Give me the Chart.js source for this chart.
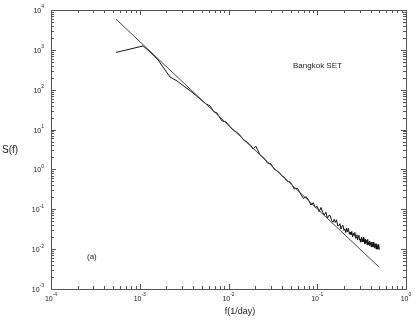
<!DOCTYPE html>
<html>
<head>
<meta charset="utf-8">
<script src="https://cdn.jsdelivr.net/npm/chart.js@4"></script>
<style>
body{margin:0;background:#fff;}
#wrap{width:415px;height:321px;}
</style>
</head>
<body>
<div id="wrap"><canvas id="spectrum-chart" width="415" height="321"></canvas></div>
<script>
// power spectrum S(f) of the Bangkok SET index, log-log
var freq = [
    0.00054, 0.00109, 0.00131, 0.00161, 0.00193, 0.00219, 0.00263, 0.00324, 0.00398, 0.00478,
    0.00558, 0.00619, 0.00687, 0.00742, 0.00802, 0.00845, 0.00937, 0.0104, 0.0113, 0.0122,
    0.0132, 0.0142, 0.0151, 0.0161, 0.0170, 0.0179, 0.01888, 0.02042, 0.02123, 0.02265,
    0.025, 0.0275, 0.03, 0.0325, 0.035, 0.0375, 0.04, 0.0425, 0.045, 0.0475,
    0.05, 0.055, 0.06, 0.065, 0.07, 0.075, 0.08, 0.085, 0.09, 0.095,
    0.1, 0.105, 0.11, 0.115, 0.12, 0.125, 0.13, 0.135, 0.14, 0.145,
    0.15, 0.155, 0.16, 0.165, 0.17, 0.175, 0.18, 0.185, 0.19, 0.195,
    0.2, 0.205, 0.21, 0.215, 0.22, 0.225, 0.23, 0.235, 0.24, 0.245,
    0.25, 0.255, 0.26, 0.265, 0.27, 0.275, 0.28, 0.285, 0.29, 0.295,
    0.3, 0.305, 0.31, 0.315, 0.32, 0.325, 0.33, 0.335, 0.34, 0.345,
    0.35, 0.355, 0.36, 0.365, 0.37, 0.375, 0.38, 0.385, 0.39, 0.395,
    0.4, 0.405, 0.41, 0.415, 0.42, 0.425, 0.43, 0.435, 0.44, 0.445,
    0.45, 0.455, 0.46, 0.465, 0.47, 0.475, 0.48, 0.485, 0.49, 0.495, 0.5
];
var power = [
    861, 1253, 885, 558, 313, 209, 166, 117, 83, 58.7,
    44, 39.3, 27.8, 26.2, 19.6, 16.5, 15.6, 11.7, 9.6, 8.75,
    7.6, 6.19, 5.2, 4.92, 4.45, 3.90, 3.28, 3.8, 3.10, 2.32,
    1.95, 1.45, 1.38, 1.04, 0.92, 0.83, 0.68, 0.64, 0.52, 0.50,
    0.475, 0.324, 0.336, 0.241, 0.187, 0.207, 0.169, 0.128, 0.147, 0.111,
    0.118, 0.0867, 0.111, 0.0844, 0.072, 0.0846, 0.0596, 0.0701, 0.0690, 0.0524,
    0.0470, 0.0561, 0.0468, 0.0545, 0.0383, 0.0384, 0.0436, 0.0319, 0.0377, 0.0397,
    0.0295, 0.0323, 0.0260, 0.0332, 0.0272, 0.0330, 0.0236, 0.0269, 0.0231, 0.0279,
    0.0202, 0.0250, 0.0216, 0.0263, 0.0187, 0.0193, 0.0230, 0.0171, 0.0203, 0.0221,
    0.0167, 0.0180, 0.0150, 0.0199, 0.0176, 0.0151, 0.0197, 0.0151, 0.0172, 0.0136,
    0.0178, 0.0145, 0.0166, 0.0127, 0.0176, 0.0132, 0.0149, 0.0124, 0.0160, 0.0128,
    0.0145, 0.0114, 0.0148, 0.0126, 0.0114, 0.0151, 0.0116, 0.0131, 0.0107, 0.0139,
    0.0116, 0.0133, 0.0101, 0.0137, 0.0104, 0.0118, 0.0100, 0.0130, 0.0104, 0.0124, 0.0096
];
// straight power-law fit
var fitFreq = [0.00054, 0.5];
var fitPower = [5900, 0.0035];

var xExponents = [-4, -3, -2, -1, 0];
var yExponents = [-3, -2, -1, 0, 1, 2, 3, 4];

var font = '"Liberation Sans", Arial, sans-serif';

function toPoints(xs, ys) {
    return xs.map(function (x, i) { return {x: x, y: ys[i]}; });
}

function drawPow(c, exp, x, y, align) {
    c.font = '7px ' + font;
    var w1 = c.measureText('10').width;
    c.font = '5px ' + font;
    var w2 = c.measureText(String(exp)).width;
    var left = align === 'right' ? x - w1 - w2 : x - (w1 + w2) / 2;
    c.textAlign = 'left';
    c.textBaseline = 'middle';
    c.font = '7px ' + font;
    c.fillText('10', left, y);
    c.font = '5px ' + font;
    c.fillText(String(exp), left + w1, y - 4);
}

var framePlugin = {
    id: 'frame',
    afterDraw: function (chart) {
        var c = chart.ctx, a = chart.chartArea;
        var xs = chart.scales.x, ys = chart.scales.y;
        c.save();
        c.strokeStyle = '#555';
        c.lineWidth = 1;
        c.strokeRect(a.left + 0.5, a.top + 0.5, a.right - a.left, a.bottom - a.top);
        c.beginPath();
        xExponents.forEach(function (e) {
            for (var m = 1; m <= 9; m++) {
                var v = m * Math.pow(10, e);
                if (v > xs.max * 1.0001) break;
                var px = Math.round(xs.getPixelForValue(v)) + 0.5;
                var len = m === 1 ? 5 : 3;
                c.moveTo(px, a.bottom); c.lineTo(px, a.bottom - len);
                c.moveTo(px, a.top); c.lineTo(px, a.top + len);
            }
        });
        yExponents.forEach(function (e) {
            for (var m = 1; m <= 9; m++) {
                var v = m * Math.pow(10, e);
                if (v > ys.max * 1.0001) break;
                var py = Math.round(ys.getPixelForValue(v)) + 0.5;
                var len = m === 1 ? 5 : 3;
                c.moveTo(a.left, py); c.lineTo(a.left + len, py);
                c.moveTo(a.right, py); c.lineTo(a.right - len, py);
            }
        });
        c.stroke();

        c.fillStyle = '#222';
        xExponents.forEach(function (e) {
            drawPow(c, e, xs.getPixelForValue(Math.pow(10, e)), 299, 'center');
        });
        yExponents.forEach(function (e) {
            drawPow(c, e, a.left - 7, ys.getPixelForValue(Math.pow(10, e)) + 1, 'right');
        });

        c.textBaseline = 'middle';
        c.font = '10px ' + font;
        c.textAlign = 'left';
        c.fillText('S(f)', 2, 150);
        c.font = '9px ' + font;
        c.textAlign = 'center';
        c.fillText('f(1/day)', 240, 312);
        c.font = '8px ' + font;
        c.textAlign = 'left';
        c.fillText('Bangkok SET', 293, 66);
        c.fillText('(a)', 87, 257);
        c.restore();
    }
};

var ctx = document.getElementById('spectrum-chart').getContext('2d');
var myChart = new Chart(ctx, {
    type: 'line',
    data: {
        datasets: [{
            label: 'fit',
            data: toPoints(fitFreq, fitPower),
            borderColor: '#444',
            borderWidth: 1,
            pointRadius: 0,
            tension: 0
        }, {
            label: 'S(f)',
            data: toPoints(freq, power),
            borderColor: '#111',
            borderWidth: 1,
            pointRadius: 0,
            tension: 0
        }]
    },
    options: {
        responsive: false,
        animation: false,
        layout: {padding: {left: 51, right: 9, top: 10, bottom: 32}},
        plugins: {legend: {display: false}, tooltip: {enabled: false}},
        scales: {
            x: {type: 'logarithmic', min: 1e-4, max: 1, display: false},
            y: {type: 'logarithmic', min: 1e-3, max: 1e4, display: false}
        }
    },
    plugins: [framePlugin]
});
</script>
</body>
</html>
